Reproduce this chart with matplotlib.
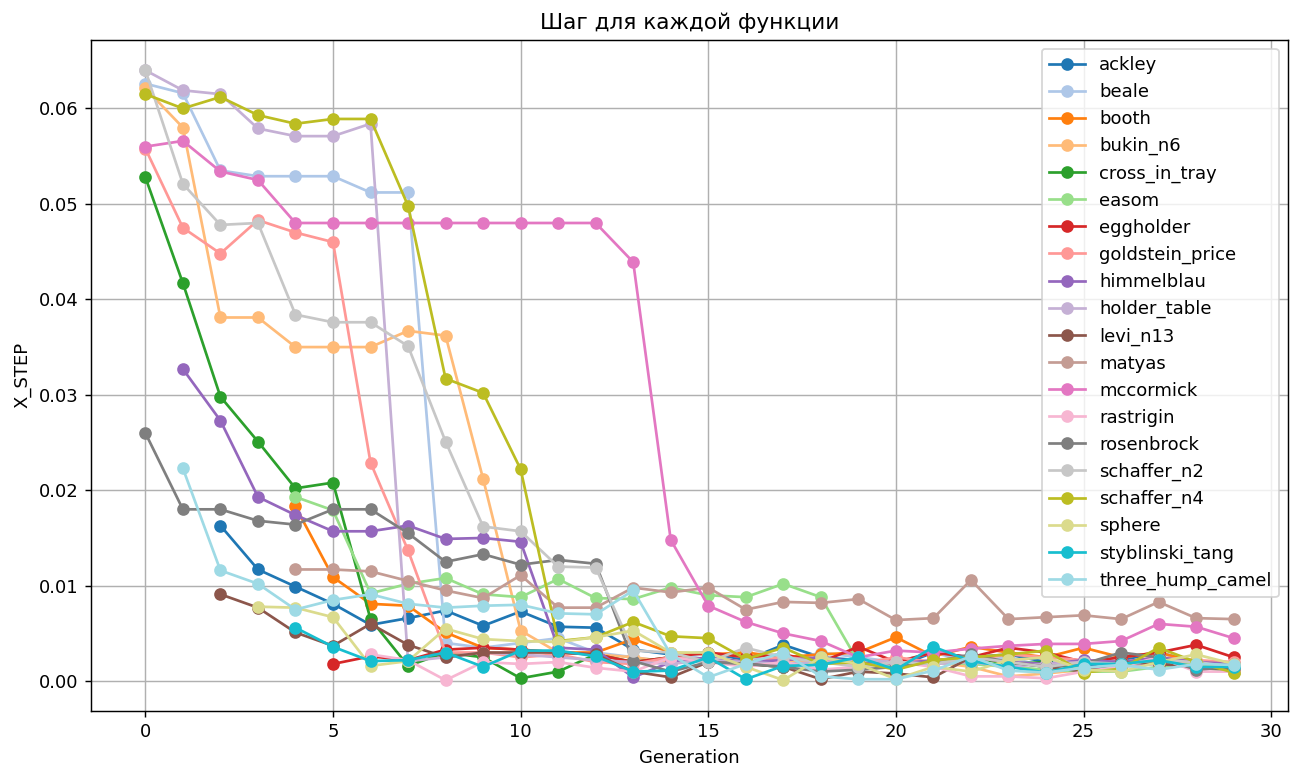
import numpy as np
import matplotlib
matplotlib.use("Agg")
import matplotlib.pyplot as plt

nan = np.nan
gens = list(range(30))

ackley = [nan, nan, 0.0163, 0.0117, 0.0099, 0.0081, 0.0059, 0.0066, 0.0074, 0.0058,
          0.0073, 0.0057, 0.0056, 0.0033, 0.0028, 0.0030, 0.0022, 0.0038, 0.0025, 0.0022,
          0.0015, 0.0030, 0.0025, 0.0028, 0.0020, 0.0015, 0.0022, 0.0030, 0.0020, 0.0015]
beale = [0.0626, 0.0616, 0.0535, 0.0529, 0.0529, 0.0529, 0.0512, 0.0512, 0.0040, 0.0035,
         0.0040, 0.0045, 0.0030, 0.0025, 0.0020, 0.0030, 0.0025, 0.0020, 0.0030, 0.0025,
         0.0020, 0.0030, 0.0020, 0.0025, 0.0015, 0.0020, 0.0025, 0.0030, 0.0020, 0.0015]
booth = [nan, nan, nan, nan, 0.0183, 0.0109, 0.0081, 0.0079, 0.0051, 0.0035,
         0.0033, 0.0030, 0.0030, 0.0044, 0.0030, 0.0028, 0.0030, 0.0025, 0.0028, 0.0030,
         0.0046, 0.0026, 0.0036, 0.0030, 0.0025, 0.0035, 0.0025, 0.0030, 0.0020, 0.0015]
bukin_n6 = [0.0621, 0.0580, 0.0381, 0.0381, 0.0350, 0.0350, 0.0350, 0.0367, 0.0362, 0.0212,
            0.0053, 0.0030, 0.0028, 0.0025, 0.0020, 0.0025, 0.0020, 0.0022, 0.0020, 0.0018,
            0.0015, 0.0020, 0.0015, 0.0005, 0.0008, 0.0012, 0.0015, 0.0020, 0.0018, 0.0012]
cross_in_tray = [0.0528, 0.0417, 0.0298, 0.0251, 0.0202, 0.0208, 0.0065, 0.0016, 0.0030, 0.0025,
                 0.0003, 0.0010, 0.0028, 0.0020, 0.0025, 0.0020, 0.0018, 0.0015, 0.0020, 0.0022,
                 0.0015, 0.0020, 0.0025, 0.0018, 0.0020, 0.0012, 0.0018, 0.0020, 0.0015, 0.0010]
easom = [nan, nan, nan, nan, 0.0193, 0.0179, 0.0092, 0.0102, 0.0108, 0.0091,
         0.0088, 0.0107, 0.0087, 0.0086, 0.0098, 0.0090, 0.0088, 0.0102, 0.0088, 0.0020,
         0.0015, 0.0020, 0.0018, 0.0015, 0.0012, 0.0010, 0.0010, 0.0015, 0.0018, 0.0015]
eggholder = [nan, nan, nan, nan, nan, 0.0018, 0.0026, 0.0022, 0.0033, 0.0035,
             0.0033, 0.0030, 0.0028, 0.0020, 0.0025, 0.0030, 0.0025, 0.0028, 0.0020, 0.0036,
             0.0020, 0.0030, 0.0025, 0.0035, 0.0030, 0.0020, 0.0025, 0.0030, 0.0038, 0.0025]
goldstein_price = [0.0558, 0.0475, 0.0448, 0.0483, 0.0470, 0.0460, 0.0229, 0.0137, 0.0030, 0.0030,
                   0.0025, 0.0028, 0.0020, 0.0018, 0.0025, 0.0022, 0.0020, 0.0025, 0.0022, 0.0018,
                   0.0025, 0.0020, 0.0022, 0.0028, 0.0025, 0.0022, 0.0020, 0.0025, 0.0022, 0.0020]
himmelblau = [nan, 0.0327, 0.0273, 0.0193, 0.0174, 0.0157, 0.0157, 0.0163, 0.0149, 0.0150,
              0.0146, 0.0035, 0.0033, 0.0004, 0.0020, 0.0025, 0.0020, 0.0022, 0.0025, 0.0020,
              0.0018, 0.0022, 0.0025, 0.0020, 0.0018, 0.0022, 0.0020, 0.0025, 0.0020, 0.0018]
holder_table = [0.0640, 0.0619, 0.0615, 0.0579, 0.0571, 0.0571, 0.0584, 0.0021, 0.0025, 0.0030,
                0.0028, 0.0025, 0.0022, 0.0020, 0.0018, 0.0022, 0.0020, 0.0018, 0.0020, 0.0022,
                0.0020, 0.0018, 0.0020, 0.0015, 0.0018, 0.0020, 0.0015, 0.0018, 0.0015, 0.0015]
levi_n13 = [nan, nan, 0.0091, 0.0077, 0.0051, 0.0037, 0.0060, 0.0038, 0.0025, 0.0030,
            0.0030, 0.0030, 0.0028, 0.0010, 0.0004, 0.0020, 0.0018, 0.0015, 0.0002, 0.0010,
            0.0008, 0.0004, 0.0025, 0.0020, 0.0015, 0.0010, 0.0020, 0.0018, 0.0015, 0.0012]
matyas = [nan, nan, nan, nan, 0.0117, 0.0117, 0.0115, 0.0105, 0.0095, 0.0087,
          0.0111, 0.0077, 0.0077, 0.0098, 0.0093, 0.0098, 0.0075, 0.0083, 0.0082, 0.0086,
          0.0064, 0.0066, 0.0106, 0.0065, 0.0067, 0.0069, 0.0065, 0.0083, 0.0066, 0.0065]
mccormick = [0.0560, 0.0566, 0.0534, 0.0525, 0.0480, 0.0480, 0.0480, 0.0480, 0.0480, 0.0480,
             0.0480, 0.0480, 0.0480, 0.0439, 0.0148, 0.0079, 0.0062, 0.0050, 0.0042, 0.0025,
             0.0032, 0.0030, 0.0034, 0.0037, 0.0039, 0.0039, 0.0042, 0.0060, 0.0057, 0.0045]
rastrigin = [nan, nan, nan, nan, nan, nan, 0.0028, 0.0022, 0.0001, 0.0020,
             0.0018, 0.0020, 0.0014, 0.0010, 0.0025, 0.0020, 0.0015, 0.0020, 0.0012, 0.0015,
             0.0020, 0.0015, 0.0005, 0.0005, 0.0003, 0.0010, 0.0015, 0.0025, 0.0010, 0.0010]
rosenbrock = [0.0260, 0.0180, 0.0180, 0.0168, 0.0164, 0.0180, 0.0180, 0.0155, 0.0125, 0.0133,
              0.0122, 0.0127, 0.0123, 0.0021, 0.0010, 0.0020, 0.0018, 0.0015, 0.0010, 0.0012,
              0.0015, 0.0020, 0.0028, 0.0020, 0.0015, 0.0018, 0.0030, 0.0025, 0.0012, 0.0015]
schaffer_n2 = [0.0640, 0.0521, 0.0478, 0.0480, 0.0384, 0.0376, 0.0376, 0.0351, 0.0251, 0.0162,
               0.0157, 0.0120, 0.0119, 0.0032, 0.0030, 0.0020, 0.0035, 0.0025, 0.0020, 0.0015,
               0.0020, 0.0018, 0.0025, 0.0020, 0.0015, 0.0020, 0.0018, 0.0022, 0.0020, 0.0015]
schaffer_n4 = [0.0615, 0.0600, 0.0612, 0.0593, 0.0584, 0.0589, 0.0589, 0.0498, 0.0317, 0.0302,
               0.0222, 0.0042, 0.0046, 0.0062, 0.0047, 0.0045, 0.0023, 0.0035, 0.0018, 0.0020,
               0.0012, 0.0022, 0.0025, 0.0028, 0.0032, 0.0009, 0.0013, 0.0035, 0.0020, 0.0009]
sphere = [nan, nan, nan, 0.0078, 0.0077, 0.0067, 0.0016, 0.0021, 0.0055, 0.0044,
          0.0042, 0.0041, 0.0046, 0.0053, 0.0030, 0.0030, 0.0015, 0.0001, 0.0025, 0.0018,
          0.0002, 0.0015, 0.0010, 0.0022, 0.0025, 0.0012, 0.0010, 0.0020, 0.0028, 0.0018]
styblinski_tang = [nan, nan, nan, nan, 0.0056, 0.0036, 0.0021, 0.0022, 0.0030, 0.0015,
                   0.0032, 0.0032, 0.0026, 0.0010, 0.0011, 0.0025, 0.0002, 0.0016, 0.0017, 0.0025,
                   0.0012, 0.0036, 0.0021, 0.0015, 0.0009, 0.0018, 0.0018, 0.0022, 0.0015, 0.0015]
three_hump_camel = [nan, 0.0223, 0.0116, 0.0102, 0.0075, 0.0085, 0.0091, 0.0081, 0.0077, 0.0079,
                    0.0080, 0.0071, 0.0070, 0.0095, 0.0028, 0.0004, 0.0018, 0.0030, 0.0005, 0.0002,
                    0.0002, 0.0011, 0.0026, 0.0011, 0.0009, 0.0014, 0.0017, 0.0012, 0.0018, 0.0017]

funcs = ["ackley", "beale", "booth", "bukin_n6", "cross_in_tray", "easom", "eggholder",
         "goldstein_price", "himmelblau", "holder_table", "levi_n13", "matyas", "mccormick",
         "rastrigin", "rosenbrock", "schaffer_n2", "schaffer_n4", "sphere", "styblinski_tang",
         "three_hump_camel"]
vals = [ackley, beale, booth, bukin_n6, cross_in_tray, easom, eggholder, goldstein_price,
        himmelblau, holder_table, levi_n13, matyas, mccormick, rastrigin, rosenbrock,
        schaffer_n2, schaffer_n4, sphere, styblinski_tang, three_hump_camel]

colors = plt.cm.tab20(np.arange(20))

# рисуем при dpi 130, чтобы шрифты были как в оригинале
fig = plt.figure(figsize=(1290 / 130, 765 / 130), dpi=130)
ax = fig.add_axes([0.0705, 0.071, 0.928, 0.877])
for i in range(len(funcs)):
    ax.plot(gens, vals[i], marker='o', color=colors[i], label=funcs[i])

ax.set_title("Шаг для каждой функции")
ax.set_xlabel("Generation")
ax.set_ylabel("X_STEP")
ax.grid(True)
ax.legend(loc='upper right')

fig.savefig("out.png", dpi=130)
